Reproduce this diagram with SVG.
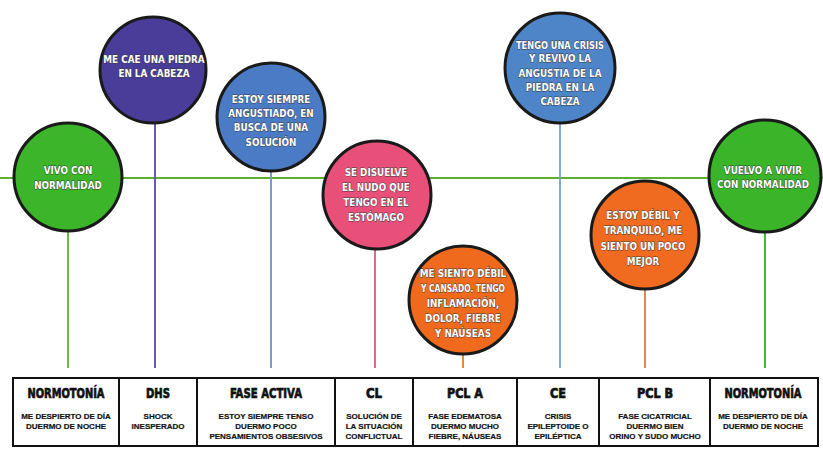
<svg xmlns="http://www.w3.org/2000/svg" width="823" height="449" viewBox="0 0 823 449">
<style>
.bub{stroke:#1a1a1a;stroke-width:3}
.ct{font-family:"DejaVu Sans Condensed","DejaVu Sans",sans-serif;font-weight:bold;font-size:9.8px;fill:#ffffff;text-anchor:middle;stroke:#3a3a3a;stroke-width:0.8;paint-order:stroke}
.hd{font-family:"DejaVu Sans Condensed","DejaVu Sans",sans-serif;font-weight:bold;font-size:14px;fill:#111;stroke:#111;stroke-width:0.7;text-anchor:middle}
.bd{font-family:"Liberation Sans",Arial,sans-serif;font-weight:bold;font-size:8px;fill:#111;stroke:#111;stroke-width:0.2;text-anchor:middle}
.vl{stroke-width:2;fill:none}
</style>
<rect width="823" height="449" fill="#ffffff"/>
<g id="connectors">
<line x1="0" y1="178" x2="823" y2="178" stroke="#5cb030" stroke-width="2"/>
<line class="vl" x1="68" y1="232" x2="68" y2="368" stroke="#6cc040"/>
<line class="vl" x1="155" y1="122" x2="155" y2="368" stroke="#6a5bb0"/>
<line class="vl" x1="271" y1="171" x2="271" y2="368" stroke="#7a9cc8"/>
<line class="vl" x1="375" y1="250" x2="375" y2="368" stroke="#d07090"/>
<line class="vl" x1="463" y1="355" x2="463" y2="368" stroke="#e08a40"/>
<line class="vl" x1="560" y1="123" x2="560" y2="368" stroke="#80a8d0"/>
<line class="vl" x1="645" y1="290" x2="645" y2="368" stroke="#e08a50"/>
<line class="vl" x1="765" y1="232" x2="765" y2="368" stroke="#40c030"/>
</g>
<g id="n1">
<circle class="bub" cx="68" cy="177" r="54" fill="#3cb52a"/>
<text class="ct" x="68" y="174">VIVO CON</text>
<text class="ct" x="68" y="189">NORMALIDAD</text>
</g>
<g id="n2">
<circle class="bub" cx="153" cy="70" r="53" fill="#4a3d9a"/>
<text class="ct" x="154" y="63">ME CAE UNA PIEDRA</text>
<text class="ct" x="154" y="77">EN LA CABEZA</text>
</g>
<g id="n3">
<circle class="bub" cx="271" cy="117" r="54" fill="#4a7bc4"/>
<text class="ct" x="271" y="103">ESTOY SIEMPRE</text>
<text class="ct" x="271" y="117">ANGUSTIADO, EN</text>
<text class="ct" x="271" y="131">BUSCA DE UNA</text>
<text class="ct" x="271" y="146">SOLUCIÓN</text>
</g>
<g id="n4">
<circle class="bub" cx="377" cy="195" r="54" fill="#e8507a"/>
<text class="ct" x="376" y="176">SE DISUELVE</text>
<text class="ct" x="376" y="191">EL NUDO QUE</text>
<text class="ct" x="376" y="206">TENGO EN EL</text>
<text class="ct" x="376" y="221">ESTÓMAGO</text>
</g>
<g id="n5">
<circle class="bub" cx="463" cy="300" r="54" fill="#f06a1e"/>
<text class="ct" x="463" y="277">ME SIENTO DÉBIL</text>
<text class="ct" x="463" y="292" textLength="84" lengthAdjust="spacingAndGlyphs">Y CANSADO. TENGO</text>
<text class="ct" x="463" y="307">INFLAMACIÓN,</text>
<text class="ct" x="463" y="322">DOLOR, FIEBRE</text>
<text class="ct" x="463" y="337">Y NAÚSEAS</text>
</g>
<g id="n6">
<circle class="bub" cx="560" cy="68" r="55" fill="#4d85c8"/>
<text class="ct" x="560" y="49" textLength="88" lengthAdjust="spacingAndGlyphs">TENGO UNA CRISIS</text>
<text class="ct" x="560" y="62">Y REVIVO LA</text>
<text class="ct" x="560" y="77">ANGUSTIA DE LA</text>
<text class="ct" x="560" y="91">PIEDRA EN LA</text>
<text class="ct" x="560" y="105">CABEZA</text>
</g>
<g id="n7">
<circle class="bub" cx="645" cy="235" r="54" fill="#f06a20"/>
<text class="ct" x="643" y="219">ESTOY DÉBIL Y</text>
<text class="ct" x="643" y="234">TRANQUILO, ME</text>
<text class="ct" x="643" y="250">SIENTO UN POCO</text>
<text class="ct" x="643" y="265">MEJOR</text>
</g>
<g id="n8">
<circle class="bub" cx="765" cy="176" r="56" fill="#3ab52a"/>
<text class="ct" x="763" y="174">VUELVO A VIVIR</text>
<text class="ct" x="763" y="188">CON NORMALIDAD</text>
</g>
<g id="table">
<rect x="13" y="378" width="805" height="68" fill="#ffffff" stroke="#111" stroke-width="2"/>
<g stroke="#111" stroke-width="2">
<line x1="119" y1="378" x2="119" y2="446"/>
<line x1="197" y1="378" x2="197" y2="446"/>
<line x1="335" y1="378" x2="335" y2="446"/>
<line x1="413" y1="378" x2="413" y2="446"/>
<line x1="517" y1="378" x2="517" y2="446"/>
<line x1="599" y1="378" x2="599" y2="446"/>
<line x1="710" y1="378" x2="710" y2="446"/>
</g>
<text class="hd" x="66" y="398" textLength="77" lengthAdjust="spacingAndGlyphs">NORMOTONÍA</text>
<text class="hd" x="158" y="398" textLength="24" lengthAdjust="spacingAndGlyphs">DHS</text>
<text class="hd" x="266" y="398" textLength="72" lengthAdjust="spacingAndGlyphs">FASE ACTIVA</text>
<text class="hd" x="374" y="398" textLength="16" lengthAdjust="spacingAndGlyphs">CL</text>
<text class="hd" x="465" y="398" textLength="36" lengthAdjust="spacingAndGlyphs">PCL A</text>
<text class="hd" x="558" y="398" textLength="16" lengthAdjust="spacingAndGlyphs">CE</text>
<text class="hd" x="655" y="398" textLength="36" lengthAdjust="spacingAndGlyphs">PCL B</text>
<text class="hd" x="763" y="398" textLength="77" lengthAdjust="spacingAndGlyphs">NORMOTONÍA</text>
<text class="bd" x="66" y="419">ME DESPIERTO DE DÍA</text>
<text class="bd" x="66" y="429">DUERMO DE NOCHE</text>
<text class="bd" x="158" y="419">SHOCK</text>
<text class="bd" x="158" y="429">INESPERADO</text>
<text class="bd" x="266" y="419">ESTOY SIEMPRE TENSO</text>
<text class="bd" x="266" y="429">DUERMO POCO</text>
<text class="bd" x="266" y="439">PENSAMIENTOS OBSESIVOS</text>
<text class="bd" x="374" y="419">SOLUCIÓN DE</text>
<text class="bd" x="374" y="429">LA SITUACIÓN</text>
<text class="bd" x="374" y="439">CONFLICTUAL</text>
<text class="bd" x="465" y="419">FASE EDEMATOSA</text>
<text class="bd" x="465" y="429">DUERMO MUCHO</text>
<text class="bd" x="465" y="439">FIEBRE, NÁUSEAS</text>
<text class="bd" x="558" y="419">CRISIS</text>
<text class="bd" x="558" y="429">EPILEPTOIDE O</text>
<text class="bd" x="558" y="439">EPILÉPTICA</text>
<text class="bd" x="655" y="419">FASE CICATRICIAL</text>
<text class="bd" x="655" y="429">DUERMO BIEN</text>
<text class="bd" x="655" y="439">ORINO Y SUDO MUCHO</text>
<text class="bd" x="763" y="419">ME DESPIERTO DE DÍA</text>
<text class="bd" x="763" y="429">DUERMO DE NOCHE</text>
</g>
</svg>
